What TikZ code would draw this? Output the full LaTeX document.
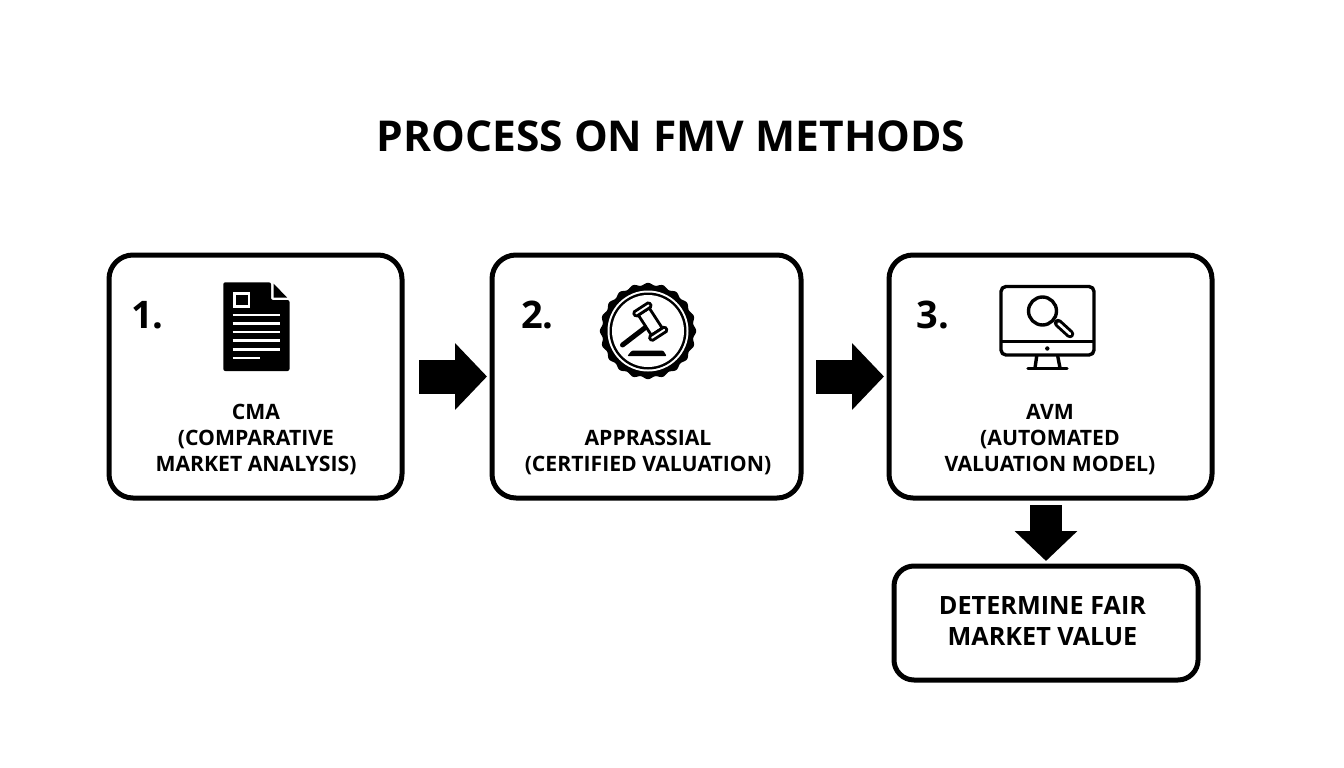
\documentclass[tikz,border=0pt]{standalone}
\usepackage{fontspec}
\setmainfont{Open Sans}
\usetikzlibrary{arrows.meta,calc}
\tikzset{
  x=1pt,y=-1pt,
  box/.style={draw=black,line width=5pt,rounded corners=24pt,fill=white,inner sep=0pt,outer sep=0pt},
  lab/.style={font=\fontsize{21.2}{26}\selectfont\bfseries,align=center,inner sep=0pt,text=black},
  num/.style={font=\fontsize{38}{40}\selectfont\bfseries,inner sep=0pt},
  blockh/.style={line width=34pt,-{Triangle[length=32pt,width=65pt]}},
  blockv/.style={line width=32pt,-{Triangle[length=30pt,width=61pt]}},
  ic/.style={line width=3.4pt,draw=black,line join=round}
}
\begin{document}
\begin{tikzpicture}
\useasboundingbox (0,0) rectangle (1344,768);
\fill[white] (0,0) rectangle (1344,768);
\node[font=\fontsize{42.5}{46}\selectfont\bfseries,inner sep=0pt] (title) at (671,136) {PROCESS ON FMV METHODS};
\node[box,minimum width=293pt,minimum height=243pt] (b1) at (255.5,376.5) {};
\node[box,minimum width=309pt,minimum height=243pt] (b2) at (646.5,376.5) {};
\node[box,minimum width=323pt,minimum height=243pt] (b3) at (1050.5,376.5) {};
\node[box,minimum width=304pt,minimum height=114pt,rounded corners=20pt] (b4) at (1046,623) {};
\node[num] (n1) at (147.5,315) {1.};
\node[num] (n2) at (537.5,315) {2.};
\node[num] (n3) at (933,315) {3.};
\node[lab] (t1) at (256,439.5) {CMA\\(COMPARATIVE\\MARKET ANALYSIS)};
\node[lab] (t2) at (648,452.5) {APPRASSIAL\\(CERTIFIED VALUATION)};
\node[lab] (t3) at (1050,439.5) {AVM\\(AUTOMATED\\VALUATION MODEL)};
\node[lab,font=\fontsize{25.2}{31}\selectfont\bfseries] (t4) at (1042.5,621) {DETERMINE FAIR\\MARKET VALUE};
\draw[blockh,shorten <=17pt,shorten >=5pt] (b1.east) -- (b2.west);
\draw[blockh,shorten <=15pt,shorten >=5pt] (b2.east) -- (b3.west);
\draw[blockv,shorten <=7pt,shorten >=5pt] (b4.north |- b3.south) -- (b4.north);
% document icon
\fill[black,rounded corners=2pt] (223.3,282.3) -- (271,282.3) -- (271,300) -- (289.5,300) -- (289.5,371) -- (223.3,371) -- cycle;
\fill[black] (273.5,283.5) -- (287,297.5) -- (273.5,297.5) -- cycle;
\draw[white,line width=2.6pt] (234.5,293.5) rectangle (249,306.5);
\foreach \y in {315,323.5,332,340.7,349.3}{\draw[white,line width=2.9pt] (232.7,\y) -- (280,\y);}
\draw[white,line width=2.9pt] (232.7,358) -- (260,358);
% seal icon
\begin{scope}[shift={(648,331)}]
\fill[black] plot[domain=0:360,samples=240,smooth] ({(47+1.2*cos(20*\x))*cos(\x)},{(47+1.2*cos(20*\x))*sin(\x)}) -- cycle;
\fill[white] (0,0) circle (40.5);
\fill[black] (0,0) circle (38.5);
\fill[white] (0,0) circle (36);
\draw[black,line width=5pt,line cap=round] (-25.5,14) -- (-2,-4);
\begin{scope}[shift={(2.3,-9.4)},rotate=-57]
\draw[black,line width=2.8pt,fill=white] (-12,-6.5) rectangle (12,6.5);
\draw[black,line width=2.8pt,fill=white,rounded corners=1.5pt] (-17,-9.5) rectangle (-12,9.5);
\draw[black,line width=2.8pt,fill=white,rounded corners=1.5pt] (12,-9.5) rectangle (17,9.5);
\end{scope}
\fill[black,rounded corners=1pt] (-20.7,25) -- (-16.3,19.7) -- (15.3,19.7) -- (18.7,25) -- cycle;
\end{scope}
% monitor icon
\draw[ic,rounded corners=5pt] (1001,286.5) rectangle (1094,355);
\draw[ic] (1001,341.5) -- (1094,341.5);
\fill[black] (1047.3,348.5) circle (2.2);
\draw[ic] (1036.7,356) -- (1035,368);
\draw[ic] (1057.7,356) -- (1060,368);
\draw[ic,line cap=round] (1028,368.7) -- (1067,368.7);
\draw[ic] (1042.5,311) circle (14);
\draw[line width=8.5pt,black,line cap=round] (1058,323) -- (1070,334);
\draw[line width=2.6pt,white,line cap=round] (1058.5,323.5) -- (1070,334);
\end{tikzpicture}
\end{document}
